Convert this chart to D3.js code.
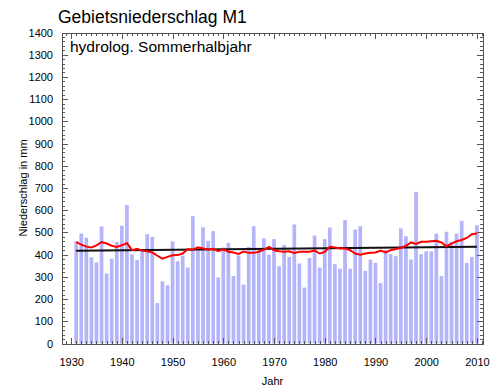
<!DOCTYPE html>
<html lang="de">
<head>
<meta charset="UTF-8">
<title>Gebietsniederschlag M1</title>
<script src="https://d3js.org/d3.v7.min.js"></script>
<style>
    body { margin: 0; background: #fff; }
    svg text { font-family: "Liberation Sans", Arial, sans-serif; fill: #000; }
    .axis path, .axis line { stroke: #555; shape-rendering: crispEdges; }
</style>
</head>
<body>
<div class="canvas"></div>
<script>
// Jahre 1931 - 2010
const years = d3.range(1931, 2011);

// Niederschlag im hydrolog. Sommerhalbjahr (mm)
const rain = [
    461, 495, 476, 388, 365, 527, 315, 382, 457, 530,
    623, 401, 375, 420, 492, 480, 182, 280, 262, 460,
    370, 395, 342, 573, 420, 523, 462, 506, 297, 432,
    453, 304, 397, 265, 435, 528, 423, 473, 400, 470,
    348, 443, 390, 536, 360, 252, 385, 486, 342, 470,
    522, 357, 337, 555, 337, 513, 528, 327, 378, 363,
    272, 420, 402, 393, 518, 483, 378, 683, 402, 415,
    415, 495, 303, 503, 458, 495, 552, 363, 390, 533
];

// gleitendes Mittel (rote Linie)
const smooth = [
    456, 445, 436, 432, 442, 457, 450, 440, 435, 442,
    452, 420, 426, 418, 415, 410, 395, 382, 390, 397,
    398, 405, 425, 422, 433, 428, 423, 426, 416, 424,
    413, 410, 403, 414, 408, 408, 413, 423, 435, 420,
    415, 413, 415, 408, 413, 413, 413, 418, 405, 412,
    435, 432, 428, 428, 420, 405, 400, 405, 408, 410,
    418, 410, 420, 425, 430, 440, 455, 448, 458, 458,
    460, 462, 455, 438, 450, 460, 466, 475, 492, 495
];

// linearer Trend: Anfang / Ende
const trendYears = [1931, 2010];
const trendValues = [418, 436];

const xTicks = d3.range(1930, 2011, 10);
const yTicks = d3.range(0, 1401, 100);

const width = 497;
const height = 392;
const [pl, pr, pt, pb] = [62, 483, 32.5, 343.5];

const svg = d3.select('.canvas')
    .append('svg')
    .attr('width', width)
    .attr('height', height);

const x = d3.scaleLinear()
    .domain([1928.2, 2011.2])
    .range([pl, pr]);

const y = d3.scaleLinear()
    .domain([0, 1400])
    .range([pb, pt]);

const step = x(1931) - x(1930);
const barW = step * 0.73;

// Balken
svg.append('g')
    .selectAll('rect')
    .data(years)
    .enter()
    .append('rect')
    .attr('x', (d) => x(d) - barW / 2)
    .attr('y', (d, i) => y(rain[i]))
    .attr('width', barW)
    .attr('height', (d, i) => y(0) - y(rain[i]))
    .attr('fill', '#b4b4fb');

// Achsen (Ticks nach innen)
const minorX = d3.range(1929, 2012);
const minorY = d3.range(0, 1401, 20);

function addAxis(axis, tx, ty) {
    return svg.append('g')
        .attr('class', 'axis')
        .attr('transform', `translate(${tx}, ${ty})`)
        .call(axis);
}

addAxis(d3.axisBottom(x).tickValues(minorX).tickSize(-3).tickSizeOuter(0).tickFormat(''), 0, pb);
addAxis(d3.axisTop(x).tickValues(minorX).tickSize(-3).tickSizeOuter(0).tickFormat(''), 0, pt);
addAxis(d3.axisLeft(y).tickValues(minorY).tickSize(-3).tickSizeOuter(0).tickFormat(''), pl, 0);
addAxis(d3.axisRight(y).tickValues(minorY).tickSize(-3).tickSizeOuter(0).tickFormat(''), pr, 0);

const xAxisG = addAxis(d3.axisBottom(x).tickValues(xTicks).tickSize(-6).tickSizeOuter(0).tickPadding(15).tickFormat(d3.format('d')), 0, pb);
addAxis(d3.axisTop(x).tickValues(xTicks).tickSize(-6).tickSizeOuter(0).tickFormat(''), 0, pt);
const yAxisG = addAxis(d3.axisLeft(y).tickValues(yTicks).tickSize(-6).tickSizeOuter(0).tickPadding(9).tickFormat(d3.format('d')), pl, 0);
addAxis(d3.axisRight(y).tickValues(yTicks).tickSize(-6).tickSizeOuter(0).tickFormat(''), pr, 0);

xAxisG.selectAll('text').style('font-size', '11px').attr('fill', '#000');
yAxisG.selectAll('text').style('font-size', '11px').attr('fill', '#000');

// Trend (schwarz)
svg.append('path')
    .datum(trendYears)
    .attr('d', d3.line().x((d) => x(d)).y((d, i) => y(trendValues[i])))
    .attr('fill', 'none')
    .attr('stroke', '#111')
    .attr('stroke-width', 2);

// gleitendes Mittel (rot)
svg.append('path')
    .datum(years)
    .attr('d', d3.line().x((d) => x(d)).y((d, i) => y(smooth[i])))
    .attr('fill', 'none')
    .attr('stroke', '#f00')
    .attr('stroke-width', 2);

// Beschriftung
svg.append('text')
    .attr('x', 58)
    .attr('y', 23)
    .style('font-size', '17.5px')
    .text('Gebietsniederschlag M1');

svg.append('text')
    .attr('x', 70)
    .attr('y', 52)
    .style('font-size', '15.5px')
    .text('hydrolog. Sommerhalbjahr');

svg.append('text')
    .attr('x', (pl + pr) / 2)
    .attr('y', 385)
    .attr('text-anchor', 'middle')
    .style('font-size', '11px')
    .text('Jahr');

svg.append('text')
    .attr('transform', `translate(27, ${y(700)}) rotate(-90)`)
    .attr('text-anchor', 'middle')
    .style('font-size', '11px')
    .text('Niederschlag in mm');
</script>
</body>
</html>
